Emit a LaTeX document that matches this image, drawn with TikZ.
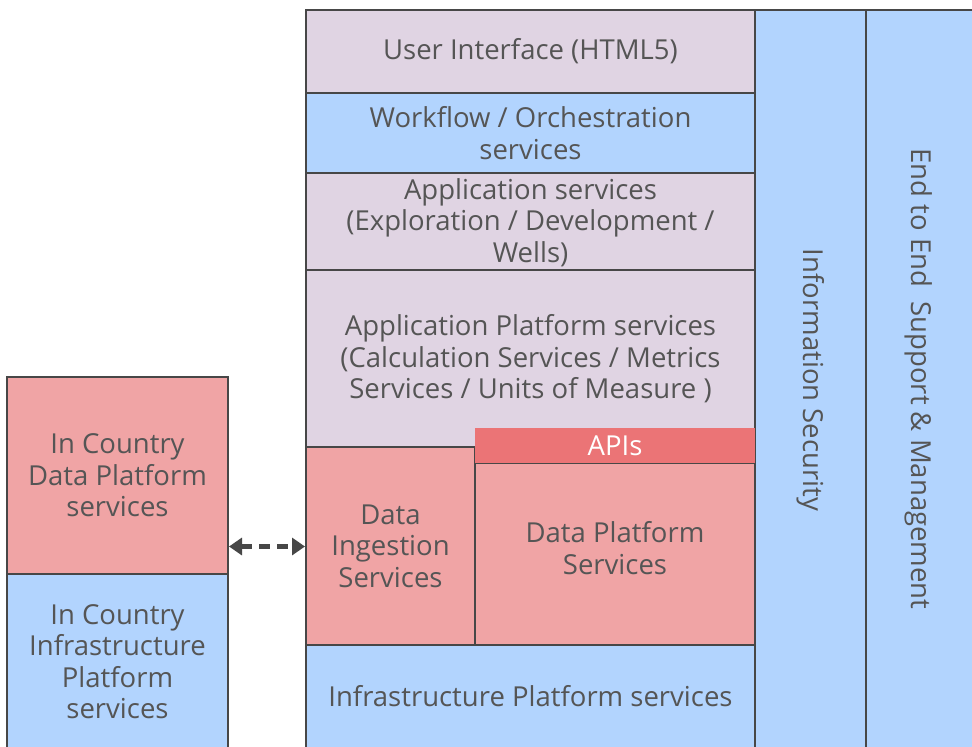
\documentclass[tikz,border=0pt]{standalone}
\usepackage{fontspec}
\setmainfont{Open Sans}
\usetikzlibrary{arrows.meta}

\definecolor{lilac}{HTML}{E0D4E3}
\definecolor{skyblue}{HTML}{B2D4FE}
\definecolor{rose}{HTML}{F0A4A5}
\definecolor{apired}{HTML}{EB7476}
\definecolor{inktext}{HTML}{555555}
\definecolor{edge}{HTML}{474747}

\tikzset{
  layer/.style={draw=edge, line width=1.8pt, rectangle, anchor=north west,
    inner sep=0pt, outer sep=0pt},
  lilacbox/.style={layer, fill=lilac},
  bluebox/.style={layer, fill=skyblue},
  rosebox/.style={layer, fill=rose},
  apibar/.style={rectangle, fill=apired, draw=none, anchor=north west,
    inner sep=0pt, outer sep=0pt},
  label/.style={text=inktext, align=center, inner sep=0pt,
    font=\fontsize{27.5}{31.5}\selectfont},
  link/.style={draw=edge, line width=4.8pt, dash pattern=on 11pt off 7pt,
    {Triangle[length=13pt,width=17pt]}-{Triangle[length=13pt,width=17pt]}, shorten <=1pt, shorten >=1pt}
}

\begin{document}
\begin{tikzpicture}[x=1pt, y=-1pt]
\useasboundingbox (0,0) rectangle (972,747);
\fill[white] (0,0) rectangle (972,747);

% vertical cross-cutting columns
\node[bluebox, minimum width=111pt, minimum height=750pt] (sec) at (755,10) {};
\node[bluebox, minimum width=120pt, minimum height=750pt] (e2e) at (866,10) {};
\node[label, rotate=-90] (seclbl) at (811,380) {Information Security};
\node[label, rotate=-90] (e2elbl) at (919,379) {End to End\ \ Support \& Management};

% main stack
\node[lilacbox, minimum width=449pt, minimum height=83pt] (ui) at (306,10) {};
\node[label] at (ui.center) {User Interface (HTML5)};

\node[bluebox, minimum width=449pt, minimum height=80pt] (wf) at (306,93) {};
\node[label] at (wf.center) {Workflow / Orchestration\\services};

\node[lilacbox, minimum width=449pt, minimum height=97pt] (app) at (306,173) {};
\node[label] at ([yshift=-1pt]app.center) {Application services\\(Exploration / Development /\\Wells)};

\node[lilacbox, minimum width=449pt, minimum height=177pt] (plat) at (306,270) {};
\node[label] at (530.5,359) {Application Platform services\\(Calculation Services / Metrics\\Services / Units of Measure )};

\node[rosebox, minimum width=169pt, minimum height=198pt] (ingest) at (306,447) {};
\node[label] at (ingest.center) {Data\\Ingestion\\Services};

\node[rosebox, minimum width=280pt, minimum height=182pt] (dps) at (475,463) {};
\node[label] at ([yshift=6pt]dps.center) {Data Platform\\Services};

\node[apibar, minimum width=280pt, minimum height=35pt] (apis) at (475,428) {};
\node[label, text=white] at (apis.center) {APIs};

\node[bluebox, minimum width=449pt, minimum height=110pt] (infra) at (306,645) {};
\node[label] at (530.5,696) {Infrastructure Platform services};

% in-country stack
\node[rosebox, minimum width=221pt, minimum height=197pt] (icdata) at (7,377) {};
\node[label] at (icdata.center) {In Country\\Data Platform\\services};

\node[bluebox, minimum width=221pt, minimum height=180pt] (icinfra) at (7,574) {};
\node[label] at (117.5,661.5) {In Country\\Infrastructure\\Platform\\services};

% data exchange between the in-country platform and ingestion
\draw[link] (icdata.east |- 0,546.5) -- (ingest.west |- 0,546.5);
\end{tikzpicture}
\end{document}
